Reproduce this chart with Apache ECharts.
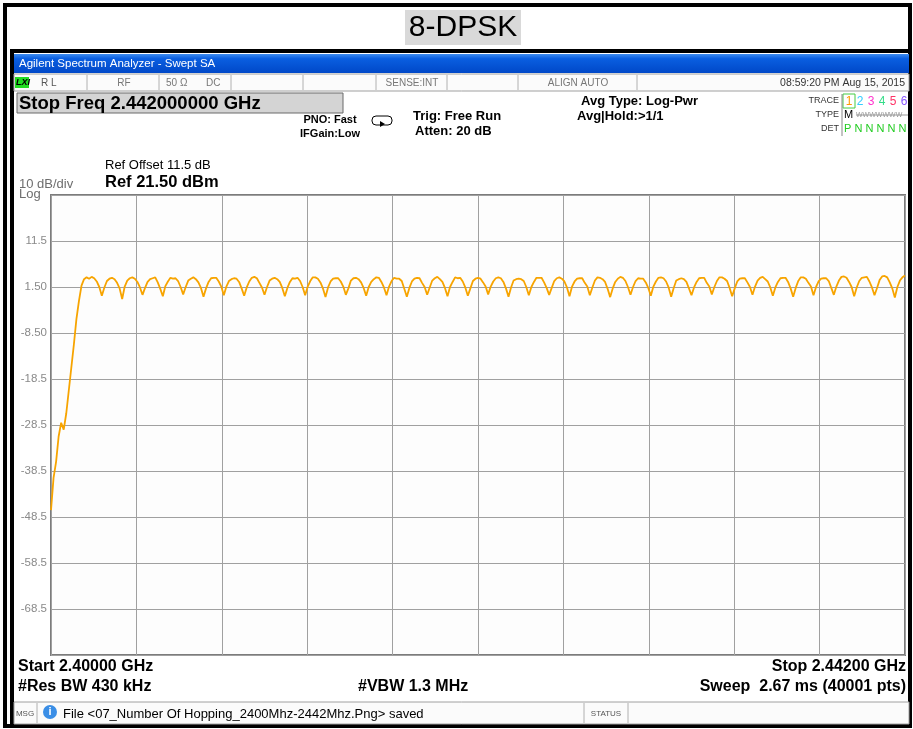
<!DOCTYPE html>
<html>
<head>
<meta charset="utf-8">
<script src="https://cdn.jsdelivr.net/npm/echarts@6/dist/echarts.min.js"></script>
<style>
  html, body { margin: 0; padding: 0; background: #fff; }
  #chart { width: 913px; height: 729px; }
</style>
</head>
<body>
<div id="chart"></div>
<script>
// sweep 2400 - 2442 MHz, one trace sample every 0.125 MHz (8 per row = 1 MHz)
const startMHz = 0;
const spanMHz = 42;
const stepMHz = 0.125;
const refBottom = -78.5;   // dBm at bottom graticule
const yTickLabels = ['', '-68.5', '-58.5', '-48.5', '-38.5', '-28.5', '-18.5', '-8.50', '1.50', '11.5', ''];

const trace = [
  -47, -40, -36.5, -31, -28, -29.5, -26, -21,
  -16, -11, -5.5, -1.5, 1.8, 3.2, 3.6, 3.3,
  3.7, 3.4, 2.7, 1.5, -0.4, 1.4, 2.8, 3.3,
  3.5, 3.2, 2.4, 1.2, -1.1, 1.6, 2.9, 3.4,
  3.6, 3.3, 2.6, 1.4, -0.2, 1.3, 2.6, 3.2,
  3.4, 3.6, 2.5, 1.1, -0.5, 1.7, 2.7, 3.5,
  3.3, 3.4, 2.8, 1.5, -0.1, 1.5, 2.9, 3.3,
  3.6, 3.2, 2.5, 1.3, -0.6, 1.2, 2.6, 3.4,
  3.5, 3.5, 2.7, 1.6, -0.3, 1.6, 2.8, 3.2,
  3.4, 3.3, 2.6, 1.2, -0.4, 1.4, 2.7, 3.5,
  3.7, 3.4, 2.4, 1.4, -0.2, 1.5, 2.9, 3.3,
  3.5, 3.2, 2.6, 1.3, -0.5, 1.3, 2.6, 3.4,
  3.3, 3.5, 2.8, 1.5, -0.3, 1.6, 2.8, 3.6,
  3.6, 3.3, 2.5, 1.2, -0.7, 1.4, 2.7, 3.3,
  3.4, 3.4, 2.7, 1.6, -0.2, 1.2, 2.9, 3.4,
  3.5, 3.2, 2.5, 1.3, -0.4, 1.5, 2.6, 3.2,
  3.6, 3.5, 2.6, 1.4, -0.3, 1.6, 2.8, 3.5,
  3.3, 3.3, 2.8, 1.1, -0.6, 1.3, 2.7, 3.3,
  3.5, 3.4, 2.4, 1.5, -0.2, 1.4, 2.9, 3.4,
  3.7, 3.2, 2.6, 1.3, -0.5, 1.5, 2.6, 3.6,
  3.4, 3.5, 2.7, 1.4, -0.4, 1.2, 2.8, 3.3,
  3.5, 3.3, 2.5, 1.6, -0.1, 1.6, 2.7, 3.4,
  3.6, 3.4, 2.6, 1.2, -0.6, 1.4, 2.9, 3.2,
  3.3, 3.2, 2.8, 1.5, -0.3, 1.5, 2.6, 3.5,
  3.5, 3.5, 2.5, 1.3, -0.2, 1.3, 2.8, 3.4,
  3.6, 3.3, 2.7, 1.4, -0.5, 1.6, 2.7, 3.3,
  3.4, 3.4, 2.4, 1.6, -0.3, 1.4, 2.9, 3.6,
  3.5, 3.2, 2.6, 1.1, -0.7, 1.2, 2.6, 3.3,
  3.7, 3.5, 2.8, 1.5, -0.2, 1.5, 2.8, 3.4,
  3.3, 3.3, 2.5, 1.3, -0.4, 1.6, 2.7, 3.5,
  3.6, 3.4, 2.7, 1.4, -0.6, 1.3, 2.9, 3.2,
  3.4, 3.2, 2.6, 1.2, -0.3, 1.4, 2.6, 3.4,
  3.5, 3.5, 2.4, 1.6, -0.1, 1.5, 2.8, 3.6,
  3.6, 3.3, 2.8, 1.3, -0.5, 1.2, 2.7, 3.3,
  3.4, 3.4, 2.5, 1.5, -0.2, 1.6, 2.9, 3.5,
  3.7, 3.2, 2.7, 1.4, -0.4, 1.4, 2.6, 3.4,
  3.5, 3.5, 2.6, 1.2, -0.6, 1.3, 2.8, 3.6,
  3.6, 3.3, 2.4, 1.6, -0.3, 1.5, 2.7, 3.3,
  3.4, 3.4, 2.8, 1.3, -0.2, 1.6, 2.9, 3.7,
  3.8, 3.5, 2.6, 1.5, -0.5, 1.4, 2.8, 3.5,
  3.6, 3.7, 2.7, 1.4, -0.3, 1.3, 3.0, 3.8,
  3.9, 3.6, 2.5, 1.2, -0.8, 1.5, 2.9, 3.6,
  4.0
];

const traceData = trace.map((v, i) => [startMHz + i * stepMHz, v - refBottom]);

const ui = "'Liberation Sans', Arial, sans-serif";
const grey = '#6e6e6e';

function txt(x, y, s, o) {
  return {
    type: 'text', x: x, y: y, z: 10,
    style: Object.assign({ text: s, fill: '#000', font: '12px ' + ui, textAlign: 'left', textVerticalAlign: 'middle' }, o || {})
  };
}
function vline(x, y1, y2, c, w) {
  return { type: 'line', z: 5, shape: { x1: x, y1: y1, x2: x, y2: y2 }, style: { stroke: c || '#b0b0b0', lineWidth: w || 1 } };
}
function hline(y, x1, x2, c, w) {
  return { type: 'line', z: 5, shape: { x1: x1, y1: y, x2: x2, y2: y }, style: { stroke: c || '#b0b0b0', lineWidth: w || 1 } };
}

const graphics = [
  // outer frame
  { type: 'rect', z: 1, shape: { x: 5, y: 5, width: 905, height: 721 }, style: { fill: 'none', stroke: '#000', lineWidth: 4 } },
  // title
  { type: 'rect', z: 2, shape: { x: 405, y: 10, width: 116, height: 35 }, style: { fill: '#d9d9d9' } },
  txt(463, 28, '8-DPSK', { font: '30px ' + ui, textAlign: 'center' }),
  // analyzer window frame
  { type: 'rect', z: 2, shape: { x: 12, y: 51, width: 898, height: 675 }, style: { fill: 'none', stroke: '#000', lineWidth: 4 } },
  // blue title bar
  { type: 'rect', z: 3, shape: { x: 14, y: 54, width: 895, height: 19 },
    style: { fill: new echarts.graphic.LinearGradient(0, 0, 0, 1, [
      { offset: 0, color: '#3d8cf0' }, { offset: 0.25, color: '#0a5ee0' }, { offset: 1, color: '#0048c8' }]) } },
  txt(19, 64, 'Agilent Spectrum Analyzer - Swept SA', { fill: '#fff', font: '11.5px ' + ui }),
  // status row
  { type: 'rect', z: 3, shape: { x: 14, y: 74, width: 895, height: 17 }, style: { fill: '#fbfbfb', stroke: '#a0a0a0', lineWidth: 1 } },
  { type: 'rect', z: 4, shape: { x: 15, y: 77, width: 14, height: 11 }, style: { fill: '#22dd22' } },
  txt(16, 83, 'LXI', { font: 'italic bold 9px ' + ui }),
  txt(41, 83, 'R L', { fill: '#555', font: '10px ' + ui }),
  txt(124, 83, 'RF', { fill: '#777', font: '10px ' + ui, textAlign: 'center' }),
  txt(166, 83, '50 Ω', { fill: '#777', font: '10px ' + ui }),
  txt(206, 83, 'DC', { fill: '#777', font: '10px ' + ui }),
  txt(412, 83, 'SENSE:INT', { fill: '#777', font: '10px ' + ui, textAlign: 'center' }),
  txt(578, 83, 'ALIGN AUTO', { fill: '#777', font: '10px ' + ui, textAlign: 'center' }),
  txt(905, 83, '08:59:20 PM Aug 15, 2015', { fill: '#333', font: '10.5px ' + ui, textAlign: 'right' }),
  vline(87, 75, 90), vline(159, 75, 90), vline(231, 75, 90), vline(303, 75, 90),
  vline(376, 75, 90), vline(447, 75, 90), vline(518, 75, 90), vline(637, 75, 90),
  // stop freq box
  { type: 'rect', z: 4, shape: { x: 17, y: 93, width: 326, height: 20 }, style: { fill: '#d4d4d4', stroke: '#6a6a6a', lineWidth: 1 } },
  txt(19, 104, 'Stop Freq 2.442000000 GHz', { font: 'bold 18.5px ' + ui }),
  // settings
  txt(330, 120, 'PNO: Fast', { font: 'bold 11px ' + ui, textAlign: 'center' }),
  txt(330, 134, 'IFGain:Low', { font: 'bold 11px ' + ui, textAlign: 'center' }),
  { type: 'rect', z: 4, shape: { x: 372, y: 116, width: 20, height: 9, r: 4 }, style: { fill: 'none', stroke: '#000', lineWidth: 1 } },
  { type: 'polygon', z: 4, shape: { points: [[380, 121], [380, 127], [385, 124]] }, style: { fill: '#000' } },
  txt(413, 116, 'Trig: Free Run', { font: 'bold 13px ' + ui }),
  txt(415, 131, 'Atten: 20 dB', { font: 'bold 13px ' + ui }),
  txt(581, 101, 'Avg Type: Log-Pwr', { font: 'bold 13px ' + ui }),
  txt(577, 116, 'Avg|Hold:>1/1', { font: 'bold 13px ' + ui }),
  // trace table
  txt(839, 101, 'TRACE', { fill: '#333', font: '9px ' + ui, textAlign: 'right' }),
  txt(839, 115, 'TYPE', { fill: '#333', font: '9px ' + ui, textAlign: 'right' }),
  txt(839, 129, 'DET', { fill: '#333', font: '9px ' + ui, textAlign: 'right' }),
  vline(842, 94, 136, '#888'),
  { type: 'rect', z: 4, shape: { x: 843, y: 94, width: 12, height: 14 }, style: { fill: 'none', stroke: '#44cc44', lineWidth: 1 } },
  txt(849, 102, '1', { fill: '#ff9900', font: '12px ' + ui, textAlign: 'center' }),
  txt(860, 102, '2', { fill: '#33ccff', font: '12px ' + ui, textAlign: 'center' }),
  txt(871, 102, '3', { fill: '#ff33cc', font: '12px ' + ui, textAlign: 'center' }),
  txt(882, 102, '4', { fill: '#33dd88', font: '12px ' + ui, textAlign: 'center' }),
  txt(893, 102, '5', { fill: '#ff3366', font: '12px ' + ui, textAlign: 'center' }),
  txt(904, 102, '6', { fill: '#8855ff', font: '12px ' + ui, textAlign: 'center' }),
  txt(844, 115, 'M', { fill: '#000', font: '11px ' + ui }),
  txt(856, 115, 'WWWWWWW', { fill: '#999', font: '7px ' + ui }),
  hline(115, 856, 908, '#999'),
  txt(844, 129, 'P N N N N N', { fill: '#22cc22', font: '11px ' + ui }),
  // reference text
  txt(105, 165, 'Ref Offset 11.5 dB', { font: '13px ' + ui }),
  txt(105, 182, 'Ref 21.50 dBm', { font: 'bold 16.5px ' + ui }),
  txt(19, 184, '10 dB/div', { fill: grey, font: '13px ' + ui }),
  txt(19, 194, 'Log', { fill: grey, font: '13px ' + ui }),
  // bottom annotations
  txt(18, 667, 'Start 2.40000 GHz', { font: 'bold 16px ' + ui }),
  txt(906, 667, 'Stop 2.44200 GHz', { font: 'bold 16px ' + ui, textAlign: 'right' }),
  txt(18, 687, '#Res BW 430 kHz', { font: 'bold 16px ' + ui }),
  txt(358, 687, '#VBW 1.3 MHz', { font: 'bold 16px ' + ui }),
  txt(906, 687, 'Sweep  2.67 ms (40001 pts)', { font: 'bold 16px ' + ui, textAlign: 'right' }),
  // message bar
  { type: 'rect', z: 3, shape: { x: 14, y: 702, width: 895, height: 22 }, style: { fill: '#fbfbfb', stroke: '#a0a0a0', lineWidth: 1 } },
  txt(25, 714, 'MSG', { fill: '#555', font: '8px ' + ui, textAlign: 'center' }),
  vline(37, 703, 723), vline(584, 703, 723), vline(628, 703, 723),
  { type: 'circle', z: 6, shape: { cx: 50, cy: 712, r: 7 }, style: { fill: '#3a8ee6' } },
  txt(50, 712, 'i', { fill: '#fff', font: 'bold 11px ' + ui, textAlign: 'center' }),
  txt(63, 714, 'File <07_Number Of Hopping_2400Mhz-2442Mhz.Png> saved', { font: '13px ' + ui }),
  txt(606, 714, 'STATUS', { fill: '#555', font: '8px ' + ui, textAlign: 'center' })
];

const chart = echarts.init(document.getElementById('chart'));
chart.setOption({
  animation: false,
  backgroundColor: '#fff',
  grid: { left: 51, top: 195, width: 854, height: 460, show: true, borderColor: '#7c7c7c', borderWidth: 2, backgroundColor: '#fdfdfd' },
  xAxis: {
    type: 'value', min: startMHz, max: spanMHz, interval: 4.2,
    axisLine: { show: false }, axisTick: { show: false }, axisLabel: { show: false },
    splitLine: { show: true, lineStyle: { color: '#a0a0a0', width: 1 } }
  },
  yAxis: {
    type: 'value', min: 0, max: 100, interval: 10,
    axisLine: { show: false }, axisTick: { show: false },
    axisLabel: { margin: 4, color: '#8a8a8a', fontSize: 11.5, fontFamily: 'Liberation Sans, Arial, sans-serif',
      formatter: v => yTickLabels[Math.round(v / 10)] },
    splitLine: { show: true, lineStyle: { color: '#a0a0a0', width: 1 } }
  },
  series: [{
    type: 'line', data: traceData, showSymbol: false, symbol: 'none',
    lineStyle: { color: '#f7a400', width: 1.8 }, z: 3
  }],
  graphic: graphics
});
</script>
</body>
</html>
